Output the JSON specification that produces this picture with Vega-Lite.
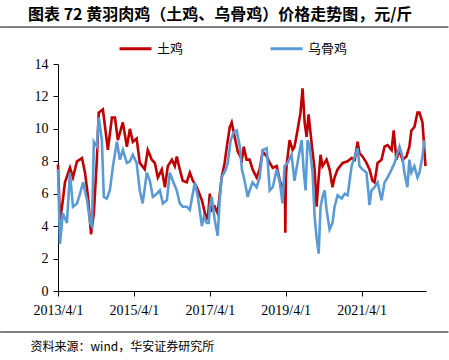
{
  "$schema": "https://vega.github.io/schema/vega-lite/v6.json",
  "width": 368,
  "height": 227,
  "autosize": {"type": "none"},
  "padding": {"left": 58, "top": 64, "right": 23, "bottom": 69},
  "background": "white",
  "title": {
    "text": "图表 72  黄羽肉鸡（土鸡、乌骨鸡）价格走势图，元/斤",
    "font": "Noto Sans CJK SC",
    "fontSize": 16,
    "fontWeight": "bold",
    "color": "#000000",
    "anchor": "start",
    "frame": "group",
    "dx": -30,
    "baseline": "middle",
    "offset": -4
  },
  "config": {
    "view": {"stroke": null},
    "axisX": {
      "grid": false,
      "domainColor": "#000000",
      "tickColor": "#000000",
      "tickSize": 5,
      "labelPadding": 7,
      "labelFont": "Liberation Serif",
      "labelFontSize": 14,
      "labelColor": "#000000",
      "labelFlush": false,
      "titleFont": "Noto Sans CJK SC",
      "titleFontSize": 12,
      "titleFontWeight": "normal",
      "titleColor": "#000000"
    },
    "axisY": {
      "grid": false,
      "domainColor": "#000000",
      "tickColor": "#000000",
      "tickSize": 5,
      "labelPadding": 5,
      "labelFont": "Liberation Serif",
      "labelFontSize": 14,
      "labelColor": "#000000"
    }
  },
  "data": {
    "values": [
      {"date": "2013-04-01", "price": 7.8, "series": "土鸡"},
      {"date": "2013-04-20", "price": 4.4, "series": "土鸡"},
      {"date": "2013-05-10", "price": 5.2, "series": "土鸡"},
      {"date": "2013-06-07", "price": 6.7, "series": "土鸡"},
      {"date": "2013-07-25", "price": 7.6, "series": "土鸡"},
      {"date": "2013-08-23", "price": 7.0, "series": "土鸡"},
      {"date": "2013-10-01", "price": 8.0, "series": "土鸡"},
      {"date": "2013-11-18", "price": 8.2, "series": "土鸡"},
      {"date": "2013-12-17", "price": 7.3, "series": "土鸡"},
      {"date": "2014-01-15", "price": 5.8, "series": "土鸡"},
      {"date": "2014-02-13", "price": 3.5, "series": "土鸡"},
      {"date": "2014-03-12", "price": 4.8, "series": "土鸡"},
      {"date": "2014-04-10", "price": 8.1, "series": "土鸡"},
      {"date": "2014-04-28", "price": 11.0, "series": "土鸡"},
      {"date": "2014-06-07", "price": 11.2, "series": "土鸡"},
      {"date": "2014-07-25", "price": 8.7, "series": "土鸡"},
      {"date": "2014-09-02", "price": 10.7, "series": "土鸡"},
      {"date": "2014-10-01", "price": 10.7, "series": "土鸡"},
      {"date": "2014-10-29", "price": 9.3, "series": "土鸡"},
      {"date": "2014-12-16", "price": 10.4, "series": "土鸡"},
      {"date": "2015-01-24", "price": 8.9, "series": "土鸡"},
      {"date": "2015-02-22", "price": 10.0, "series": "土鸡"},
      {"date": "2015-03-22", "price": 9.2, "series": "土鸡"},
      {"date": "2015-04-28", "price": 9.4, "series": "土鸡"},
      {"date": "2015-05-28", "price": 7.9, "series": "土鸡"},
      {"date": "2015-07-15", "price": 7.5, "series": "土鸡"},
      {"date": "2015-08-13", "price": 8.7, "series": "土鸡"},
      {"date": "2015-09-21", "price": 8.1, "series": "土鸡"},
      {"date": "2015-10-20", "price": 7.9, "series": "土鸡"},
      {"date": "2015-11-18", "price": 7.0, "series": "土鸡"},
      {"date": "2015-12-26", "price": 7.5, "series": "土鸡"},
      {"date": "2016-01-25", "price": 6.4, "series": "土鸡"},
      {"date": "2016-02-22", "price": 7.7, "series": "土鸡"},
      {"date": "2016-04-01", "price": 8.1, "series": "土鸡"},
      {"date": "2016-04-29", "price": 7.7, "series": "土鸡"},
      {"date": "2016-05-18", "price": 8.3, "series": "土鸡"},
      {"date": "2016-06-16", "price": 7.5, "series": "土鸡"},
      {"date": "2016-07-15", "price": 6.8, "series": "土鸡"},
      {"date": "2016-08-22", "price": 6.7, "series": "土鸡"},
      {"date": "2016-09-21", "price": 7.3, "series": "土鸡"},
      {"date": "2016-10-20", "price": 6.8, "series": "土鸡"},
      {"date": "2016-11-27", "price": 6.4, "series": "土鸡"},
      {"date": "2017-01-15", "price": 5.6, "series": "土鸡"},
      {"date": "2017-02-13", "price": 4.8, "series": "土鸡"},
      {"date": "2017-03-13", "price": 4.4, "series": "土鸡"},
      {"date": "2017-04-01", "price": 6.0, "series": "土鸡"},
      {"date": "2017-04-20", "price": 5.0, "series": "土鸡"},
      {"date": "2017-05-18", "price": 5.2, "series": "土鸡"},
      {"date": "2017-06-16", "price": 4.8, "series": "土鸡"},
      {"date": "2017-07-24", "price": 7.0, "series": "土鸡"},
      {"date": "2017-08-22", "price": 7.9, "series": "土鸡"},
      {"date": "2017-09-12", "price": 8.9, "series": "土鸡"},
      {"date": "2017-10-10", "price": 10.1, "series": "土鸡"},
      {"date": "2017-10-29", "price": 10.4, "series": "土鸡"},
      {"date": "2017-11-27", "price": 9.5, "series": "土鸡"},
      {"date": "2017-12-26", "price": 8.6, "series": "土鸡"},
      {"date": "2018-02-04", "price": 8.1, "series": "土鸡"},
      {"date": "2018-02-22", "price": 8.9, "series": "土鸡"},
      {"date": "2018-03-21", "price": 8.1, "series": "土鸡"},
      {"date": "2018-04-19", "price": 8.1, "series": "土鸡"},
      {"date": "2018-05-18", "price": 7.5, "series": "土鸡"},
      {"date": "2018-06-26", "price": 7.0, "series": "土鸡"},
      {"date": "2018-07-25", "price": 7.5, "series": "土鸡"},
      {"date": "2018-08-23", "price": 8.6, "series": "土鸡"},
      {"date": "2018-10-01", "price": 8.3, "series": "土鸡"},
      {"date": "2018-10-30", "price": 7.9, "series": "土鸡"},
      {"date": "2018-11-28", "price": 7.6, "series": "土鸡"},
      {"date": "2019-01-05", "price": 7.7, "series": "土鸡"},
      {"date": "2019-02-04", "price": 6.8, "series": "土鸡"},
      {"date": "2019-03-02", "price": 6.4, "series": "土鸡"},
      {"date": "2019-03-25", "price": 6.6, "series": "土鸡"},
      {"date": "2019-03-29", "price": 3.6, "series": "土鸡"},
      {"date": "2019-04-03", "price": 7.0, "series": "土鸡"},
      {"date": "2019-04-10", "price": 7.7, "series": "土鸡"},
      {"date": "2019-05-09", "price": 9.3, "series": "土鸡"},
      {"date": "2019-06-07", "price": 8.7, "series": "土鸡"},
      {"date": "2019-06-25", "price": 8.9, "series": "土鸡"},
      {"date": "2019-07-24", "price": 9.9, "series": "土鸡"},
      {"date": "2019-08-22", "price": 11.0, "series": "土鸡"},
      {"date": "2019-09-11", "price": 12.5, "series": "土鸡"},
      {"date": "2019-10-01", "price": 10.4, "series": "土鸡"},
      {"date": "2019-10-20", "price": 9.5, "series": "土鸡"},
      {"date": "2019-11-08", "price": 10.9, "series": "土鸡"},
      {"date": "2019-12-07", "price": 9.1, "series": "土鸡"},
      {"date": "2020-01-05", "price": 7.5, "series": "土鸡"},
      {"date": "2020-01-24", "price": 5.2, "series": "土鸡"},
      {"date": "2020-02-13", "price": 7.0, "series": "土鸡"},
      {"date": "2020-03-02", "price": 8.4, "series": "土鸡"},
      {"date": "2020-03-21", "price": 7.7, "series": "土鸡"},
      {"date": "2020-04-29", "price": 8.1, "series": "土鸡"},
      {"date": "2020-05-28", "price": 7.5, "series": "土鸡"},
      {"date": "2020-06-25", "price": 6.4, "series": "土鸡"},
      {"date": "2020-07-15", "price": 7.0, "series": "土鸡"},
      {"date": "2020-08-13", "price": 7.5, "series": "土鸡"},
      {"date": "2020-10-01", "price": 7.9, "series": "土鸡"},
      {"date": "2020-11-18", "price": 8.0, "series": "土鸡"},
      {"date": "2020-12-26", "price": 8.2, "series": "土鸡"},
      {"date": "2021-01-25", "price": 8.1, "series": "土鸡"},
      {"date": "2021-02-22", "price": 9.2, "series": "土鸡"},
      {"date": "2021-03-12", "price": 8.5, "series": "土鸡"},
      {"date": "2021-04-10", "price": 8.3, "series": "土鸡"},
      {"date": "2021-05-18", "price": 7.9, "series": "土鸡"},
      {"date": "2021-06-16", "price": 7.5, "series": "土鸡"},
      {"date": "2021-07-15", "price": 6.8, "series": "土鸡"},
      {"date": "2021-08-04", "price": 6.7, "series": "土鸡"},
      {"date": "2021-09-02", "price": 7.9, "series": "土鸡"},
      {"date": "2021-10-10", "price": 8.1, "series": "土鸡"},
      {"date": "2021-11-08", "price": 8.9, "series": "土鸡"},
      {"date": "2021-12-07", "price": 9.0, "series": "土鸡"},
      {"date": "2022-01-15", "price": 8.7, "series": "土鸡"},
      {"date": "2022-02-04", "price": 9.9, "series": "土鸡"},
      {"date": "2022-03-02", "price": 8.1, "series": "土鸡"},
      {"date": "2022-04-01", "price": 8.7, "series": "土鸡"},
      {"date": "2022-04-29", "price": 8.1, "series": "土鸡"},
      {"date": "2022-06-07", "price": 8.3, "series": "土鸡"},
      {"date": "2022-07-05", "price": 8.9, "series": "土鸡"},
      {"date": "2022-07-24", "price": 9.9, "series": "土鸡"},
      {"date": "2022-08-22", "price": 10.1, "series": "土鸡"},
      {"date": "2022-09-21", "price": 11.0, "series": "土鸡"},
      {"date": "2022-10-10", "price": 11.0, "series": "土鸡"},
      {"date": "2022-11-08", "price": 10.4, "series": "土鸡"},
      {"date": "2022-11-18", "price": 9.5, "series": "土鸡"},
      {"date": "2022-12-07", "price": 7.7, "series": "土鸡"},

      {"date": "2013-04-01", "price": 7.5, "series": "乌骨鸡"},
      {"date": "2013-04-20", "price": 2.9, "series": "乌骨鸡"},
      {"date": "2013-05-18", "price": 4.8, "series": "乌骨鸡"},
      {"date": "2013-06-26", "price": 4.2, "series": "乌骨鸡"},
      {"date": "2013-07-25", "price": 7.3, "series": "乌骨鸡"},
      {"date": "2013-08-23", "price": 5.2, "series": "乌骨鸡"},
      {"date": "2013-10-01", "price": 5.4, "series": "乌骨鸡"},
      {"date": "2013-10-30", "price": 6.0, "series": "乌骨鸡"},
      {"date": "2013-11-28", "price": 6.7, "series": "乌骨鸡"},
      {"date": "2014-01-06", "price": 5.6, "series": "乌骨鸡"},
      {"date": "2014-02-04", "price": 4.2, "series": "乌骨鸡"},
      {"date": "2014-02-22", "price": 4.0, "series": "乌骨鸡"},
      {"date": "2014-03-12", "price": 9.2, "series": "乌骨鸡"},
      {"date": "2014-04-10", "price": 8.9, "series": "乌骨鸡"},
      {"date": "2014-04-28", "price": 10.7, "series": "乌骨鸡"},
      {"date": "2014-05-28", "price": 9.3, "series": "乌骨鸡"},
      {"date": "2014-06-16", "price": 5.8, "series": "乌骨鸡"},
      {"date": "2014-07-15", "price": 5.7, "series": "乌骨鸡"},
      {"date": "2014-08-13", "price": 6.2, "series": "乌骨鸡"},
      {"date": "2014-09-12", "price": 7.7, "series": "乌骨鸡"},
      {"date": "2014-10-20", "price": 9.2, "series": "乌骨鸡"},
      {"date": "2014-11-18", "price": 8.1, "series": "乌骨鸡"},
      {"date": "2014-12-16", "price": 8.7, "series": "乌骨鸡"},
      {"date": "2015-01-24", "price": 7.9, "series": "乌骨鸡"},
      {"date": "2015-02-22", "price": 8.0, "series": "乌骨鸡"},
      {"date": "2015-03-22", "price": 8.4, "series": "乌骨鸡"},
      {"date": "2015-04-28", "price": 7.9, "series": "乌骨鸡"},
      {"date": "2015-05-28", "price": 6.2, "series": "乌骨鸡"},
      {"date": "2015-06-25", "price": 5.4, "series": "乌骨鸡"},
      {"date": "2015-08-04", "price": 7.3, "series": "乌骨鸡"},
      {"date": "2015-09-02", "price": 6.8, "series": "乌骨鸡"},
      {"date": "2015-10-01", "price": 5.8, "series": "乌骨鸡"},
      {"date": "2015-11-08", "price": 6.0, "series": "乌骨鸡"},
      {"date": "2015-12-07", "price": 6.2, "series": "乌骨鸡"},
      {"date": "2016-01-06", "price": 5.4, "series": "乌骨鸡"},
      {"date": "2016-02-13", "price": 5.6, "series": "乌骨鸡"},
      {"date": "2016-03-12", "price": 7.3, "series": "乌骨鸡"},
      {"date": "2016-04-10", "price": 6.8, "series": "乌骨鸡"},
      {"date": "2016-05-18", "price": 6.2, "series": "乌骨鸡"},
      {"date": "2016-06-16", "price": 5.4, "series": "乌骨鸡"},
      {"date": "2016-07-15", "price": 5.2, "series": "乌骨鸡"},
      {"date": "2016-08-22", "price": 5.2, "series": "乌骨鸡"},
      {"date": "2016-09-21", "price": 5.0, "series": "乌骨鸡"},
      {"date": "2016-11-08", "price": 6.7, "series": "乌骨鸡"},
      {"date": "2016-12-07", "price": 5.8, "series": "乌骨鸡"},
      {"date": "2017-01-15", "price": 4.0, "series": "乌骨鸡"},
      {"date": "2017-02-04", "price": 4.6, "series": "乌骨鸡"},
      {"date": "2017-03-03", "price": 4.2, "series": "乌骨鸡"},
      {"date": "2017-03-22", "price": 4.2, "series": "乌骨鸡"},
      {"date": "2017-04-01", "price": 5.2, "series": "乌骨鸡"},
      {"date": "2017-04-20", "price": 5.8, "series": "乌骨鸡"},
      {"date": "2017-05-18", "price": 4.4, "series": "乌骨鸡"},
      {"date": "2017-06-16", "price": 3.4, "series": "乌骨鸡"},
      {"date": "2017-07-05", "price": 5.6, "series": "乌骨鸡"},
      {"date": "2017-07-24", "price": 7.0, "series": "乌骨鸡"},
      {"date": "2017-09-02", "price": 7.5, "series": "乌骨鸡"},
      {"date": "2017-09-21", "price": 7.9, "series": "乌骨鸡"},
      {"date": "2017-10-19", "price": 9.3, "series": "乌骨鸡"},
      {"date": "2017-11-18", "price": 9.8, "series": "乌骨鸡"},
      {"date": "2017-12-16", "price": 9.9, "series": "乌骨鸡"},
      {"date": "2018-01-15", "price": 8.9, "series": "乌骨鸡"},
      {"date": "2018-02-04", "price": 7.5, "series": "乌骨鸡"},
      {"date": "2018-03-02", "price": 6.8, "series": "乌骨鸡"},
      {"date": "2018-04-01", "price": 5.8, "series": "乌骨鸡"},
      {"date": "2018-04-19", "price": 6.2, "series": "乌骨鸡"},
      {"date": "2018-05-18", "price": 6.7, "series": "乌骨鸡"},
      {"date": "2018-06-26", "price": 6.4, "series": "乌骨鸡"},
      {"date": "2018-07-25", "price": 7.0, "series": "乌骨鸡"},
      {"date": "2018-08-23", "price": 8.7, "series": "乌骨鸡"},
      {"date": "2018-10-01", "price": 8.8, "series": "乌骨鸡"},
      {"date": "2018-10-30", "price": 6.2, "series": "乌骨鸡"},
      {"date": "2018-11-28", "price": 6.4, "series": "乌骨鸡"},
      {"date": "2019-01-05", "price": 7.5, "series": "乌骨鸡"},
      {"date": "2019-02-04", "price": 6.7, "series": "乌骨鸡"},
      {"date": "2019-03-02", "price": 5.4, "series": "乌骨鸡"},
      {"date": "2019-03-22", "price": 7.7, "series": "乌骨鸡"},
      {"date": "2019-04-20", "price": 7.9, "series": "乌骨鸡"},
      {"date": "2019-05-28", "price": 8.4, "series": "乌骨鸡"},
      {"date": "2019-06-25", "price": 6.8, "series": "乌骨鸡"},
      {"date": "2019-07-24", "price": 7.9, "series": "乌骨鸡"},
      {"date": "2019-09-02", "price": 9.3, "series": "乌骨鸡"},
      {"date": "2019-09-21", "price": 7.5, "series": "乌骨鸡"},
      {"date": "2019-10-10", "price": 6.2, "series": "乌骨鸡"},
      {"date": "2019-10-29", "price": 9.3, "series": "乌骨鸡"},
      {"date": "2019-11-18", "price": 8.9, "series": "乌骨鸡"},
      {"date": "2019-12-16", "price": 7.3, "series": "乌骨鸡"},
      {"date": "2020-01-05", "price": 4.6, "series": "乌骨鸡"},
      {"date": "2020-01-24", "price": 3.3, "series": "乌骨鸡"},
      {"date": "2020-02-13", "price": 2.3, "series": "乌骨鸡"},
      {"date": "2020-03-02", "price": 5.2, "series": "乌骨鸡"},
      {"date": "2020-03-21", "price": 5.8, "series": "乌骨鸡"},
      {"date": "2020-04-10", "price": 6.2, "series": "乌骨鸡"},
      {"date": "2020-04-29", "price": 5.0, "series": "乌骨鸡"},
      {"date": "2020-05-28", "price": 3.8, "series": "乌骨鸡"},
      {"date": "2020-06-25", "price": 4.2, "series": "乌骨鸡"},
      {"date": "2020-07-15", "price": 5.2, "series": "乌骨鸡"},
      {"date": "2020-08-13", "price": 5.9, "series": "乌骨鸡"},
      {"date": "2020-09-21", "price": 5.7, "series": "乌骨鸡"},
      {"date": "2020-10-20", "price": 6.0, "series": "乌骨鸡"},
      {"date": "2020-11-18", "price": 5.9, "series": "乌骨鸡"},
      {"date": "2020-12-26", "price": 7.7, "series": "乌骨鸡"},
      {"date": "2021-01-25", "price": 8.3, "series": "乌骨鸡"},
      {"date": "2021-02-22", "price": 8.8, "series": "乌骨鸡"},
      {"date": "2021-03-12", "price": 7.7, "series": "乌骨鸡"},
      {"date": "2021-04-10", "price": 7.5, "series": "乌骨鸡"},
      {"date": "2021-05-18", "price": 7.3, "series": "乌骨鸡"},
      {"date": "2021-06-07", "price": 6.0, "series": "乌骨鸡"},
      {"date": "2021-06-16", "price": 5.3, "series": "乌骨鸡"},
      {"date": "2021-07-05", "price": 6.2, "series": "乌骨鸡"},
      {"date": "2021-08-04", "price": 6.4, "series": "乌骨鸡"},
      {"date": "2021-09-02", "price": 6.7, "series": "乌骨鸡"},
      {"date": "2021-10-10", "price": 5.6, "series": "乌骨鸡"},
      {"date": "2021-11-08", "price": 6.7, "series": "乌骨鸡"},
      {"date": "2021-12-07", "price": 7.0, "series": "乌骨鸡"},
      {"date": "2022-01-15", "price": 7.5, "series": "乌骨鸡"},
      {"date": "2022-02-13", "price": 7.9, "series": "乌骨鸡"},
      {"date": "2022-03-12", "price": 8.5, "series": "乌骨鸡"},
      {"date": "2022-04-01", "price": 8.9, "series": "乌骨鸡"},
      {"date": "2022-04-29", "price": 8.3, "series": "乌骨鸡"},
      {"date": "2022-05-18", "price": 7.3, "series": "乌骨鸡"},
      {"date": "2022-06-16", "price": 6.4, "series": "乌骨鸡"},
      {"date": "2022-07-05", "price": 8.1, "series": "乌骨鸡"},
      {"date": "2022-07-24", "price": 7.3, "series": "乌骨鸡"},
      {"date": "2022-08-22", "price": 7.7, "series": "乌骨鸡"},
      {"date": "2022-09-21", "price": 7.0, "series": "乌骨鸡"},
      {"date": "2022-10-10", "price": 7.3, "series": "乌骨鸡"},
      {"date": "2022-11-08", "price": 8.3, "series": "乌骨鸡"},
      {"date": "2022-11-27", "price": 9.3, "series": "乌骨鸡"}
    ]
  },
  "layer": [
    {
      "transform": [{"filter": "datum.series === '土鸡'"}],
      "mark": {"type": "line", "strokeWidth": 2.6},
      "encoding": {
        "x": {
          "field": "date",
          "type": "temporal",
          "scale": {"type": "utc", "domain": [{"year": 2013, "month": 4, "date": 1, "utc": true}, {"year": 2022, "month": 12, "date": 12, "utc": true}]},
          "axis": {
            "orient": "bottom",
            "title": "资料来源：wind，华安证券研究所",
            "titleAnchor": "start",
            "titleAlign": "left",
            "titleBaseline": "middle",
            "titleX": -28,
            "titleY": 55,
            "values": [
              {"year": 2013, "month": 4, "date": 1, "utc": true},
              {"year": 2015, "month": 4, "date": 1, "utc": true},
              {"year": 2017, "month": 4, "date": 1, "utc": true},
              {"year": 2019, "month": 4, "date": 1, "utc": true},
              {"year": 2021, "month": 4, "date": 1, "utc": true}
            ],
            "format": "%Y/%-m/%-d"
          }
        },
        "y": {
          "field": "price",
          "type": "quantitative",
          "scale": {"domain": [0, 14], "nice": false, "zero": true},
          "axis": {"orient": "left", "title": null, "values": [0, 2, 4, 6, 8, 10, 12, 14]}
        },
        "color": {
          "field": "series",
          "type": "nominal",
          "scale": {"domain": ["土鸡", "乌骨鸡"], "range": ["#C00000", "#5B9BD5"]},
          "legend": {
            "title": null,
            "orient": "none",
            "direction": "horizontal",
            "legendX": 60,
            "legendY": -33,
            "symbolType": "stroke",
            "symbolSize": 1024,
            "symbolStrokeWidth": 3,
            "labelFont": "Noto Sans CJK SC",
            "labelFontSize": 13,
            "labelColor": "#000000",
            "labelOffset": 4,
            "columnPadding": 80
          }
        }
      }
    },
    {
      "transform": [{"filter": "datum.series === '乌骨鸡'"}],
      "mark": {"type": "line", "strokeWidth": 2.6},
      "encoding": {
        "x": {
          "field": "date",
          "type": "temporal",
          "scale": {"type": "utc", "domain": [{"year": 2013, "month": 4, "date": 1, "utc": true}, {"year": 2022, "month": 12, "date": 12, "utc": true}]},
          "axis": {
            "orient": "bottom",
            "title": "资料来源：wind，华安证券研究所",
            "titleAnchor": "start",
            "titleAlign": "left",
            "titleBaseline": "middle",
            "titleX": -28,
            "titleY": 55,
            "values": [
              {"year": 2013, "month": 4, "date": 1, "utc": true},
              {"year": 2015, "month": 4, "date": 1, "utc": true},
              {"year": 2017, "month": 4, "date": 1, "utc": true},
              {"year": 2019, "month": 4, "date": 1, "utc": true},
              {"year": 2021, "month": 4, "date": 1, "utc": true}
            ],
            "format": "%Y/%-m/%-d"
          }
        },
        "y": {
          "field": "price",
          "type": "quantitative",
          "scale": {"domain": [0, 14], "nice": false, "zero": true},
          "axis": {"orient": "left", "title": null, "values": [0, 2, 4, 6, 8, 10, 12, 14]}
        },
        "color": {
          "field": "series",
          "type": "nominal",
          "scale": {"domain": ["土鸡", "乌骨鸡"], "range": ["#C00000", "#5B9BD5"]}
        }
      }
    },
    {
      "transform": [{"aggregate": [{"op": "count", "as": "n"}]}],
      "mark": {"type": "rule", "color": "#000000", "strokeWidth": 1},
      "encoding": {
        "x": {
          "datum": {"year": 2011, "month": 9, "date": 22, "utc": true},
          "type": "temporal",
          "scale": {"type": "utc", "domain": [{"year": 2013, "month": 4, "date": 1, "utc": true}, {"year": 2022, "month": 12, "date": 12, "utc": true}]},
          "axis": {
            "orient": "bottom",
            "title": "资料来源：wind，华安证券研究所",
            "titleAnchor": "start",
            "titleAlign": "left",
            "titleBaseline": "middle",
            "titleX": -28,
            "titleY": 55,
            "values": [
              {"year": 2013, "month": 4, "date": 1, "utc": true},
              {"year": 2015, "month": 4, "date": 1, "utc": true},
              {"year": 2017, "month": 4, "date": 1, "utc": true},
              {"year": 2019, "month": 4, "date": 1, "utc": true},
              {"year": 2021, "month": 4, "date": 1, "utc": true}
            ],
            "format": "%Y/%-m/%-d"
          }
        },
        "x2": {"datum": {"year": 2023, "month": 7, "date": 16, "utc": true}},
        "y": {
          "datum": -2.53,
          "type": "quantitative",
          "scale": {"domain": [0, 14], "nice": false, "zero": true},
          "axis": {"orient": "left", "title": null, "values": [0, 2, 4, 6, 8, 10, 12, 14]}
        }
      }
    },
    {
      "transform": [{"aggregate": [{"op": "max", "field": "price", "as": "top"}]}],
      "mark": {"type": "rule", "color": "#000000", "strokeWidth": 1},
      "encoding": {
        "x": {
          "datum": {"year": 2011, "month": 9, "date": 22, "utc": true},
          "type": "temporal",
          "scale": {"type": "utc", "domain": [{"year": 2013, "month": 4, "date": 1, "utc": true}, {"year": 2022, "month": 12, "date": 12, "utc": true}]},
          "axis": {
            "orient": "bottom",
            "title": "资料来源：wind，华安证券研究所",
            "titleAnchor": "start",
            "titleAlign": "left",
            "titleBaseline": "middle",
            "titleX": -28,
            "titleY": 55,
            "values": [
              {"year": 2013, "month": 4, "date": 1, "utc": true},
              {"year": 2015, "month": 4, "date": 1, "utc": true},
              {"year": 2017, "month": 4, "date": 1, "utc": true},
              {"year": 2019, "month": 4, "date": 1, "utc": true},
              {"year": 2021, "month": 4, "date": 1, "utc": true}
            ],
            "format": "%Y/%-m/%-d"
          }
        },
        "x2": {"datum": {"year": 2023, "month": 7, "date": 16, "utc": true}},
        "y": {
          "datum": 16.28,
          "type": "quantitative",
          "scale": {"domain": [0, 14], "nice": false, "zero": true},
          "axis": {"orient": "left", "title": null, "values": [0, 2, 4, 6, 8, 10, 12, 14]}
        }
      }
    }
  ]
}
